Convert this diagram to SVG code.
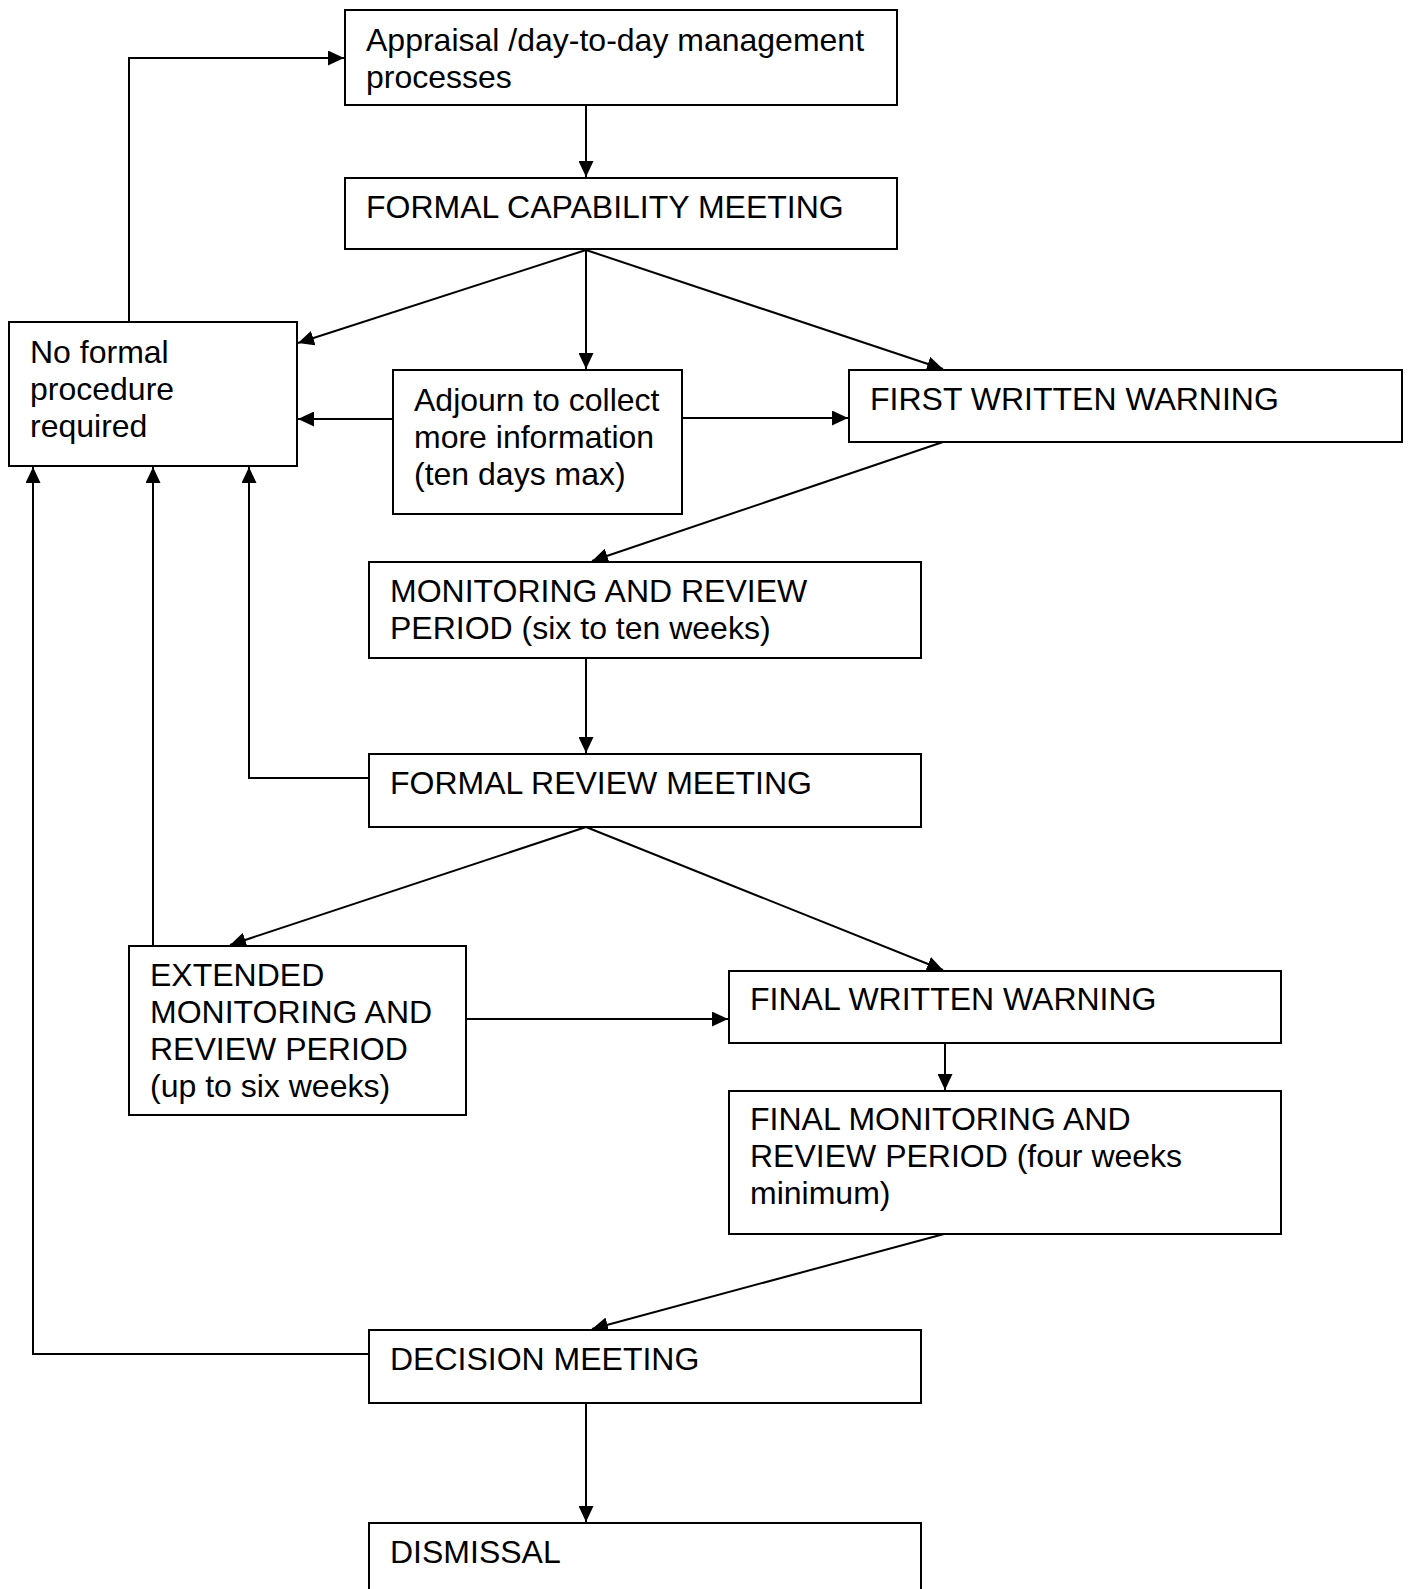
<svg xmlns="http://www.w3.org/2000/svg" width="1408" height="1589" viewBox="0 0 1408 1589">
<style>
.box{fill:#fff;stroke:#000;stroke-width:2}
.t{font-family:"Liberation Sans",Arial,sans-serif;font-size:32px;fill:#000}
.c{fill:none;stroke:#000;stroke-width:2}
</style>
<defs>
<marker id="ah" markerUnits="userSpaceOnUse" markerWidth="17" markerHeight="15" refX="16" refY="7.5" orient="auto">
<path d="M0,0 L16,7.5 L0,15 z" fill="#000"/>
</marker>
</defs>
<rect width="1408" height="1589" fill="#fff"/>
<g id="connectors">
<path class="c" d="M586,106 V177" marker-end="url(#ah)"/>
<path class="c" d="M129,322 V58 H344" marker-end="url(#ah)"/>
<path class="c" d="M586,250 L298,343" marker-end="url(#ah)"/>
<path class="c" d="M586,250 V369" marker-end="url(#ah)"/>
<path class="c" d="M586,250 L943,369" marker-end="url(#ah)"/>
<path class="c" d="M393,419 H298" marker-end="url(#ah)"/>
<path class="c" d="M682,418 H848" marker-end="url(#ah)"/>
<path class="c" d="M943,442 L592,561" marker-end="url(#ah)"/>
<path class="c" d="M586,658 V753" marker-end="url(#ah)"/>
<path class="c" d="M369,778 H249 V467" marker-end="url(#ah)"/>
<path class="c" d="M153,946 V467" marker-end="url(#ah)"/>
<path class="c" d="M369,1354 H33 V467" marker-end="url(#ah)"/>
<path class="c" d="M586,827 L230,945" marker-end="url(#ah)"/>
<path class="c" d="M586,827 L943,970" marker-end="url(#ah)"/>
<path class="c" d="M466,1019 H728" marker-end="url(#ah)"/>
<path class="c" d="M945,1043 V1090" marker-end="url(#ah)"/>
<path class="c" d="M944,1234 L592,1329" marker-end="url(#ah)"/>
<path class="c" d="M586,1403 V1522" marker-end="url(#ah)"/>
</g>
<g id="appraisal"><rect class="box" x="345" y="10" width="552" height="95"/><text class="t" x="366" y="51">Appraisal /day-to-day management</text><text class="t" x="366" y="88">processes</text></g>
<g id="fcm"><rect class="box" x="345" y="178" width="552" height="71"/><text class="t" x="366" y="218">FORMAL CAPABILITY MEETING</text></g>
<g id="noformal"><rect class="box" x="9" y="322" width="288" height="144"/><text class="t" x="30" y="363">No formal</text><text class="t" x="30" y="400">procedure</text><text class="t" x="30" y="437">required</text></g>
<g id="adjourn"><rect class="box" x="393" y="370" width="289" height="144"/><text class="t" x="414" y="411">Adjourn to collect</text><text class="t" x="414" y="448">more information</text><text class="t" x="414" y="485">(ten days max)</text></g>
<g id="fww"><rect class="box" x="849" y="370" width="553" height="72"/><text class="t" x="870" y="410">FIRST WRITTEN WARNING</text></g>
<g id="monitoring"><rect class="box" x="369" y="562" width="552" height="96"/><text class="t" x="390" y="602">MONITORING AND REVIEW</text><text class="t" x="390" y="639">PERIOD (six to ten weeks)</text></g>
<g id="frm"><rect class="box" x="369" y="754" width="552" height="73"/><text class="t" x="390" y="794">FORMAL REVIEW MEETING</text></g>
<g id="extended"><rect class="box" x="129" y="946" width="337" height="169"/><text class="t" x="150" y="986">EXTENDED</text><text class="t" x="150" y="1023">MONITORING AND</text><text class="t" x="150" y="1060">REVIEW PERIOD</text><text class="t" x="150" y="1097">(up to six weeks)</text></g>
<g id="finalww"><rect class="box" x="729" y="971" width="552" height="72"/><text class="t" x="750" y="1010">FINAL WRITTEN WARNING</text></g>
<g id="finalmon"><rect class="box" x="729" y="1091" width="552" height="143"/><text class="t" x="750" y="1130">FINAL MONITORING AND</text><text class="t" x="750" y="1167">REVIEW PERIOD (four weeks</text><text class="t" x="750" y="1204">minimum)</text></g>
<g id="decision"><rect class="box" x="369" y="1330" width="552" height="73"/><text class="t" x="390" y="1370">DECISION MEETING</text></g>
<g id="dismissal"><rect class="box" x="369" y="1523" width="552" height="100"/><text class="t" x="390" y="1563">DISMISSAL</text></g>
</svg>
